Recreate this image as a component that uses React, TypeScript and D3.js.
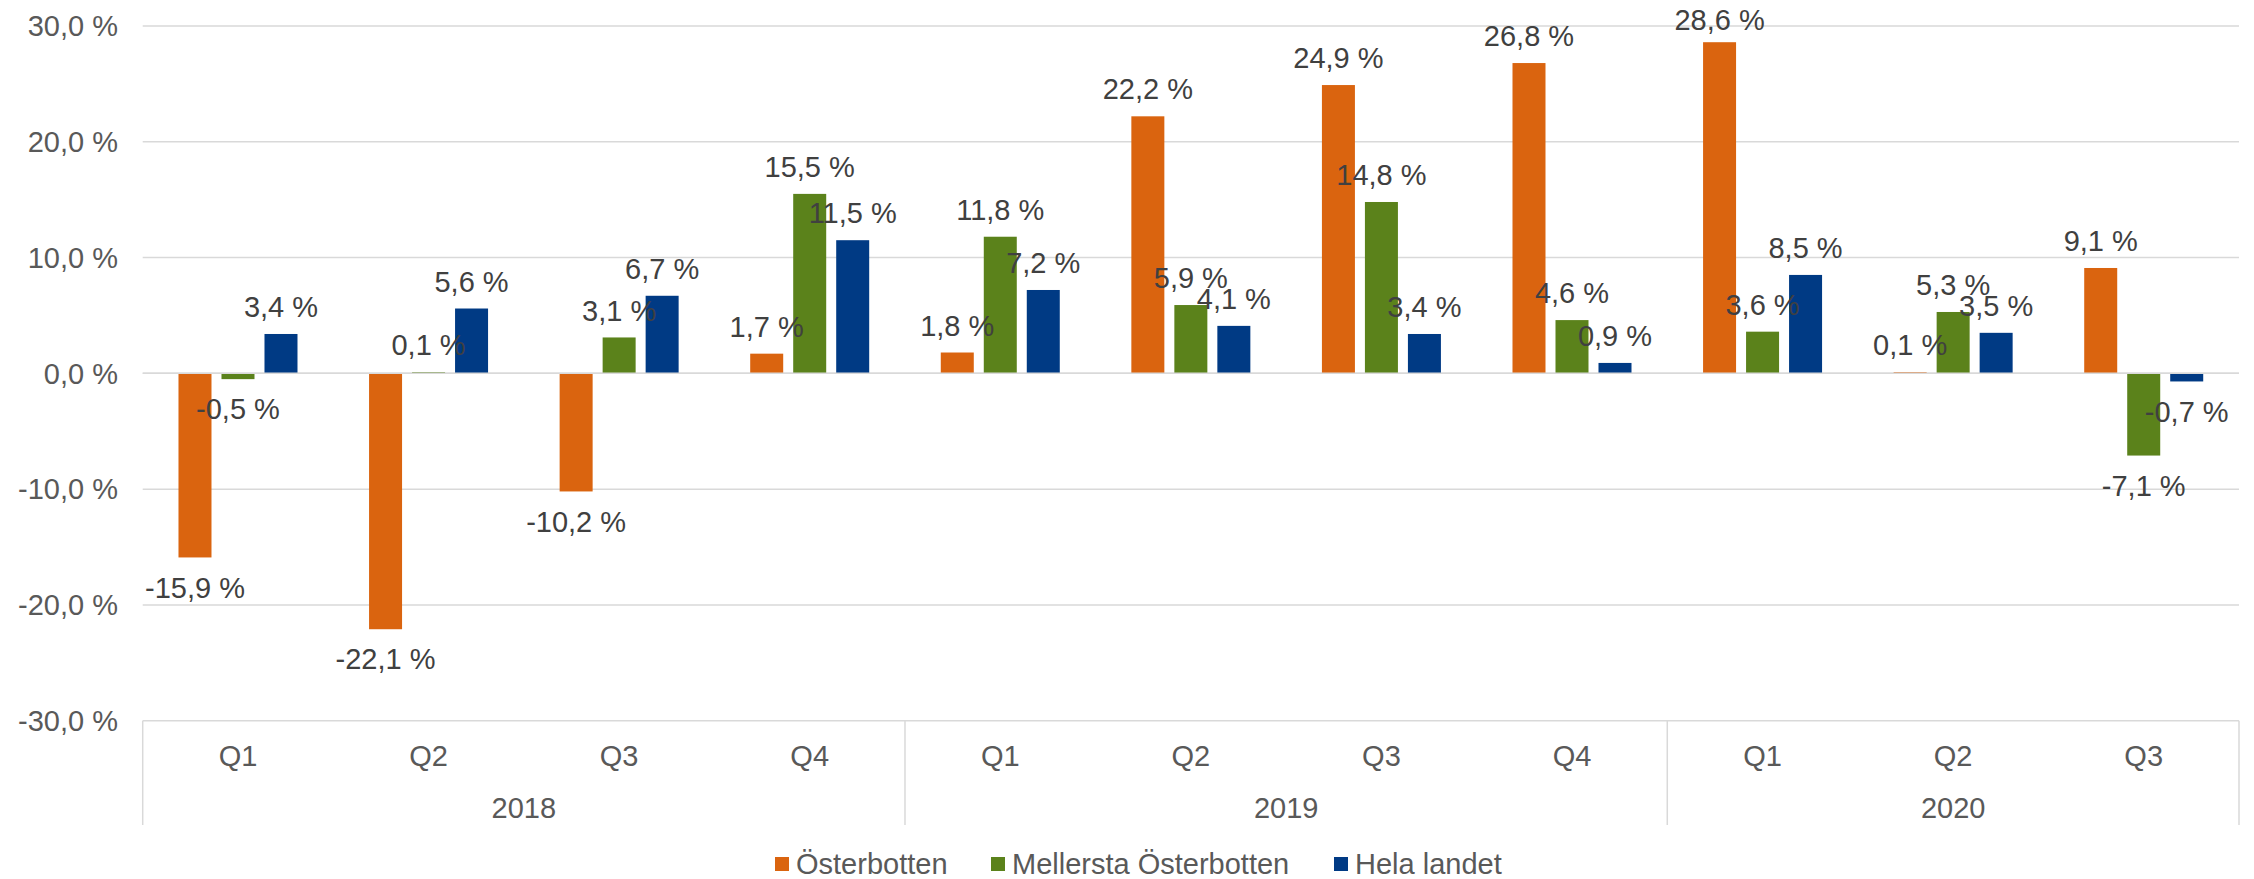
import React, { useEffect } from "react";
import * as d3 from "d3";

const quarters = ["Q1", "Q2", "Q3", "Q4", "Q1", "Q2", "Q3", "Q4", "Q1", "Q2", "Q3"];
const years = ["2018", "2019", "2020"];
const yearSpans = [4, 4, 3];
const seriesNames = ["Österbotten", "Mellersta Österbotten", "Hela landet"];
const osterbotten = [-15.9, -22.1, -10.2, 1.7, 1.8, 22.2, 24.9, 26.8, 28.6, 0.1, 9.1];
const mellersta = [-0.5, 0.1, 3.1, 15.5, 11.8, 5.9, 14.8, 4.6, 3.6, 5.3, -7.1];
const helaLandet = [3.4, 5.6, 6.7, 11.5, 7.2, 4.1, 3.4, 0.9, 8.5, 3.5, -0.7];
const yTicks = [30, 20, 10, 0, -10, -20, -30];
const colors = ["#DA640F", "#5B821B", "#003A84"];

const W = 2254;
const H = 879;
const FONT = "'Liberation Sans', Arial, sans-serif";

const fmt = (v: number) => v.toFixed(1).replace(".", ",") + " %";

export default function App() {
  useEffect(() => {
    document.body.style.margin = "0";
  }, []);

  const seriesData = [osterbotten, mellersta, helaLandet];
  const idx = quarters.map((_, i) => i);
  const x0 = d3.scaleBand<number>().domain(idx).range([142.7, 2239]).padding(0);
  const step = x0.bandwidth();
  const groupW = 119;
  const off = (step - groupW) / 2;
  const x1 = d3
    .scaleBand<number>()
    .domain([0, 1, 2])
    .range([off, off + groupW])
    .paddingInner(10 / 43)
    .paddingOuter(0);
  const bw = x1.bandwidth();
  const y = d3.scaleLinear().domain([-30, 30]).range([720.7, 26]);
  const plotLeft = 142.7;
  const plotRight = 2239;
  const axisY = y(-30);

  // year boundaries
  const bounds: number[] = [0];
  yearSpans.reduce((acc, s) => {
    bounds.push(acc + s);
    return acc + s;
  }, 0);

  const legendX = [775, 991, 1334];

  return (
    <svg width={W} height={H} style={{ display: "block", background: "#fff" }} fontFamily={FONT}>
      {/* gridlines */}
      {yTicks.map((t) => (
        <line key={"g" + t} x1={plotLeft} x2={plotRight} y1={y(t)} y2={y(t)} stroke="#D9D9D9" strokeWidth={1.5} />
      ))}
      {/* y labels */}
      {yTicks.map((t) => (
        <text key={"yl" + t} x={118} y={y(t)} dy="0.35em" textAnchor="end" fontSize={29} fill="#595959">
          {fmt(t)}
        </text>
      ))}
      {/* category frame lines */}
      {bounds.map((b, i) => {
        const xx = b === quarters.length ? plotRight : x0(b)!;
        return <line key={"vb" + i} x1={xx} x2={xx} y1={axisY} y2={825} stroke="#D9D9D9" strokeWidth={1.5} />;
      })}
      {/* bars */}
      {seriesData.map((arr, s) =>
        arr.map((v, i) => {
          const bx = x0(i)! + x1(s)!;
          const y0 = y(0);
          const yv = y(v);
          return (
            <rect
              key={`b${s}-${i}`}
              x={bx}
              y={Math.min(y0, yv)}
              width={bw}
              height={Math.max(Math.abs(yv - y0), 0.8)}
              fill={colors[s]}
            />
          );
        })
      )}
      {/* zero line over bars */}
      <line x1={plotLeft} x2={plotRight} y1={y(0)} y2={y(0)} stroke="#D9D9D9" strokeWidth={1.5} />
      {/* data labels */}
      {seriesData.map((arr, s) =>
        arr.map((v, i) => {
          const cx = x0(i)! + x1(s)! + bw / 2;
          const cy = v >= 0 ? Math.max(y(v) - 27, 20) : y(v) + 30;
          return (
            <text key={`l${s}-${i}`} x={cx} y={cy} dy="0.35em" textAnchor="middle" fontSize={29} fill="#404040">
              {fmt(v)}
            </text>
          );
        })
      )}
      {/* quarter labels */}
      {quarters.map((q, i) => (
        <text key={"q" + i} x={x0(i)! + step / 2} y={756} dy="0.35em" textAnchor="middle" fontSize={29} fill="#595959">
          {q}
        </text>
      ))}
      {/* year labels */}
      {years.map((yr, i) => {
        const a = x0(bounds[i])!;
        const bEnd = bounds[i + 1] === quarters.length ? plotRight : x0(bounds[i + 1])!;
        return (
          <text key={"yr" + i} x={(a + bEnd) / 2} y={808} dy="0.35em" textAnchor="middle" fontSize={29} fill="#595959">
            {yr}
          </text>
        );
      })}
      {/* legend */}
      {seriesNames.map((n, i) => (
        <g key={"lg" + i}>
          <rect x={legendX[i]} y={857} width={14} height={14} fill={colors[i]} />
          <text x={legendX[i] + 21} y={864} dy="0.35em" fontSize={29} fill="#595959">
            {n}
          </text>
        </g>
      ))}
    </svg>
  );
}
